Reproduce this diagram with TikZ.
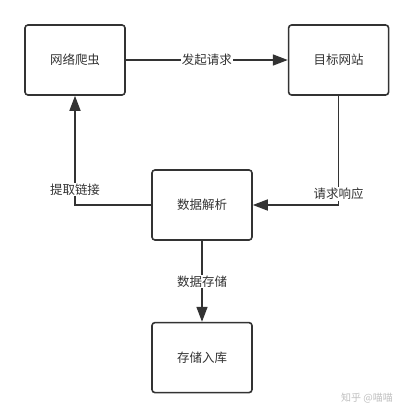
\documentclass[tikz,border=0pt]{standalone}
\usepackage{fontspec}
\setmainfont{Noto Sans CJK SC}
\usetikzlibrary{arrows.meta,positioning}
\definecolor{ink}{HTML}{333333}

\begin{document}
\begin{tikzpicture}[x=1pt,y=1pt,->,>={Triangle[length=15pt,width=11pt]},
                    line width=1.6pt,draw=ink,text=ink,font=\fontsize{12.5}{14}\selectfont,
                    box/.style={draw=ink,rectangle,rounded corners=3pt,minimum width=100pt,minimum height=70pt,inner sep=0pt},
                    lbl/.style={fill=white,inner sep=1pt}]
  \useasboundingbox (0,0) rectangle (412,-416);

  \node[box]   (crawler) at (75,-60)   {网络爬虫};
  \node[box]   (site)    [right=162pt of crawler] {目标网站};
  \node[box]   (parse)   at (202,-205) {数据解析};
  \node[box]   (store)   [below=81pt of parse] {存储入库};

  \path (crawler) edge node[lbl] {发起请求} (site)
        (parse)   edge node[lbl] {数据存储} (store);
  \draw (site) |- node[lbl,pos=0.45] {请求响应} (parse);
  \draw (parse) -| node[lbl,pos=0.57] {提取链接} (crawler);

  \node[text=black!25,font=\fontsize{10}{12}\selectfont] (mark) at (367,-398) {知乎 @喵喵};
\end{tikzpicture}
\end{document}
